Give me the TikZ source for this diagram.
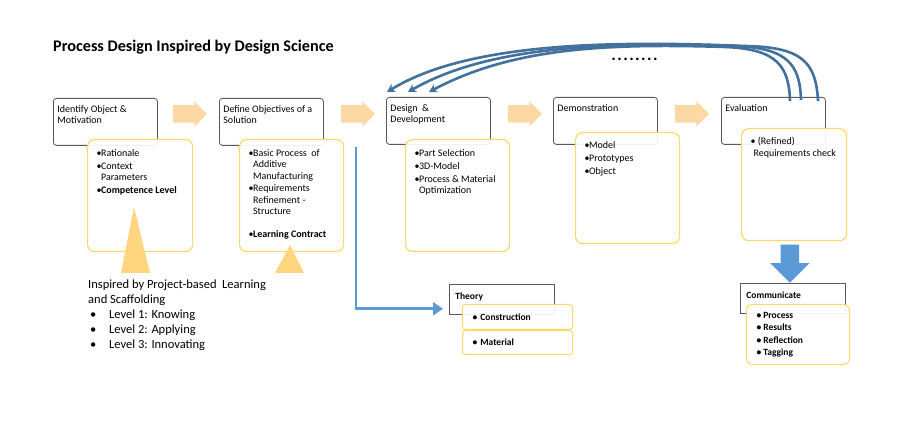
\documentclass[tikz,border=0pt]{standalone}
\usepackage{fontspec}
\setmainfont{Carlito}
\usetikzlibrary{
	arrows.meta,
	shapes.arrows,
}

\definecolor{framegray}{HTML}{595959}
\definecolor{notegold}{HTML}{FFD966}
\definecolor{flowtan}{HTML}{FCD9A4}
\definecolor{rampgold}{HTML}{FFD580}
\definecolor{lineblue}{HTML}{5B9BD5}
\definecolor{loopblue}{HTML}{41719C}

% text box with fixed height, text at the top
\newcommand{\topbox}[3]{\parbox[t][#1][t]{#2}{\setlength{\parskip}{1.6pt}#3}}
% bullet line, wrapped lines hang under the text
\newcommand{\bul}[1]{\par\hangindent=4.5pt\hangafter=1\noindent\makebox[4.5pt][l]{\textbullet}#1}

\tikzset{
	stepbox/.style={draw=framegray, line width=0.8pt, rounded corners=3pt, fill=white,
		anchor=north west, inner xsep=4pt, inner ysep=7pt, font=\fontsize{10}{10.8}\selectfont},
	notebox/.style={draw=notegold, line width=1.2pt, rounded corners=7pt, fill=white,
		fill opacity=0.92, text opacity=1, anchor=north west, inner xsep=9pt, inner ysep=10pt,
		font=\fontsize{10}{11.3}\selectfont},
	flowarrow/.style={single arrow, fill=flowtan, draw=none, inner sep=0pt,
		minimum height=34pt, single arrow head extend=4pt, anchor=tail},
	headbox/.style={draw=framegray, line width=0.8pt, fill=white, anchor=north west,
		inner xsep=6pt, inner ysep=8pt, font=\bfseries\fontsize{9.5}{11}\selectfont},
	listbox/.style={draw=notegold, line width=1pt, rounded corners=3pt, fill=white,
		fill opacity=0.92, text opacity=1, anchor=north west, inner xsep=10pt,
		font=\bfseries\fontsize{9.5}{12.3}\selectfont},
	loopline/.style={draw=loopblue, line width=2.6pt, -{Stealth[length=8pt,width=9pt]}},
	feed/.style={draw=lineblue, line width=2.6pt, -{Triangle[length=10pt,width=13pt]}},
}

\begin{document}
\begin{tikzpicture}[x=1pt, y=-1pt]
	\useasboundingbox (0,0) rectangle (900,438);
	\fill[white] (0,0) rectangle (900,438);

	\node[anchor=west, font=\bfseries\fontsize{16.2}{18}\selectfont, inner sep=0pt] (title) at (53,47) {Process Design Inspired by Design Science};
	\node[font=\bfseries\fontsize{17}{17}\selectfont, inner sep=0pt] (dots) at (634.5,59)
		{.\kern1.4pt.\kern1.4pt.\kern1.4pt.\kern1.4pt.\kern1.4pt.\kern1.4pt.\kern1.4pt.};

	% process steps
	\node[stepbox] (ident) at (53,98) {\topbox{33pt}{96pt}{Identify Object \&\\Motivation}};
	\node[stepbox] (objdef) at (219,98) {\topbox{33pt}{96pt}{Define Objectives of a\\Solution}};
	\node[stepbox] (design) at (386,97) {\topbox{33pt}{96pt}{Design\ \ \&\\Development}};
	\node[stepbox] (demo) at (553,97) {\topbox{33pt}{96pt}{Demonstration}};
	\node[stepbox] (eval) at (721,97) {\topbox{33pt}{96pt}{Evaluation}};

	\node[flowarrow] (a1) at ([xshift=15pt,yshift=8pt]ident.east) {\phantom{\rule{17pt}{17pt}}};
	\node[flowarrow] (a2) at ([xshift=17pt,yshift=8pt]objdef.east) {\phantom{\rule{17pt}{17pt}}};
	\node[flowarrow] (a3) at ([xshift=17pt,yshift=7pt]design.east) {\phantom{\rule{17pt}{17pt}}};
	\node[flowarrow] (a4) at ([xshift=17pt,yshift=7pt]demo.east) {\phantom{\rule{17pt}{17pt}}};

	% details of each step
	\node[notebox] (d1) at (87,139) {\topbox{92pt}{87pt}{\bul{Rationale}\bul{Context\\Parameters}\bul{\textbf{Competence Level}}}};
	\node[notebox] (d2) at (239,139) {\topbox{92pt}{86pt}{\bul{Basic Process\ \ of\\Additive\\Manufacturing}\bul{Requirements\\Refinement -\\Structure}\par\vspace{10pt}\bul{\textbf{Learning Contract}}}};
	\node[notebox] (d3) at (405,139) {\topbox{92pt}{86pt}{\bul{Part Selection}\bul{3D-Model}\bul{Process \& Material\\Optimization}}};
	\node[notebox, inner ysep=9pt] (d4) at (575,132) {\topbox{93pt}{86pt}{\bul{Model}\bul{Prototypes}\bul{Object}}};
	\node[notebox, inner ysep=9pt] (d5) at (741,128) {\topbox{94pt}{87pt}{\par\hangindent=3pt\hangafter=1\noindent\textbullet\ (Refined)\\Requirements check}};

	% scaffolding ramps
	\fill[rampgold] (134,207) -- (150,273) -- (121,273) -- cycle;
	\fill[rampgold] (290,245) -- (304,273) -- (275,273) -- cycle;

	\node[anchor=north west, align=left, inner sep=0pt, font=\fontsize{12.5}{15}\selectfont] (scaffold) at (88,280)
		{Inspired by Project-based\ \ Learning\\and Scaffolding\\
		\hspace*{2pt}\makebox[19pt][l]{\textbullet}Level 1: Knowing\\
		\hspace*{2pt}\makebox[19pt][l]{\textbullet}Level 2: Applying\\
		\hspace*{2pt}\makebox[19pt][l]{\textbullet}Level 3: Innovating};

	% theory branch
	\node[headbox] (theory) at (449,284) {\topbox{14pt}{93pt}{Theory}};
	\node[listbox, minimum height=25pt, text width=90pt] (construction) at (462,304) {\textbullet\ Construction};
	\node[listbox, minimum height=24pt, text width=90pt] (material) at (construction.south west) {\textbullet\ Material};
	\coordinate (branch) at (356,147);
	\draw[feed] (branch) |- ([xshift=-6pt,yshift=6pt]theory.south west);

	% communicate
	\node[headbox] (communicate) at (740,283) {\topbox{14pt}{93pt}{Communicate}};
	\node[listbox, rounded corners=6pt, inner ysep=8pt] (commlist) at (746,304)
		{\topbox{44pt}{83pt}{\textbullet\ Process\\\textbullet\ Results\\\textbullet\ Reflection\\\textbullet\ Tagging}};
	\node[single arrow, shape border rotate=270, fill=lineblue, inner sep=0pt, minimum height=38pt,
		single arrow head extend=10.5pt, anchor=tip] (dropdown) at ([xshift=-3pt]communicate.north) {\phantom{\rule{18pt}{18pt}}};

	% iteration loops back to design
	\draw[loopline] ([xshift=97pt,yshift=-4pt]eval.north west) .. controls (816,62) and (802,47) .. (745,46)
		.. controls (620,41) and (470,41) .. ([xshift=1pt,yshift=5pt]design.north west);
	\draw[loopline] ([xshift=80pt,yshift=-3pt]eval.north west) .. controls (800,64) and (787,48) .. (735,46)
		.. controls (610,42) and (490,45) .. ([xshift=22pt,yshift=5pt]design.north west);
	\draw[loopline] ([xshift=69pt,yshift=-4pt]eval.north west) .. controls (789,66) and (777,49) .. (725,47)
		.. controls (600,43) and (510,49) .. ([xshift=43pt,yshift=5pt]design.north west);
\end{tikzpicture}
\end{document}
